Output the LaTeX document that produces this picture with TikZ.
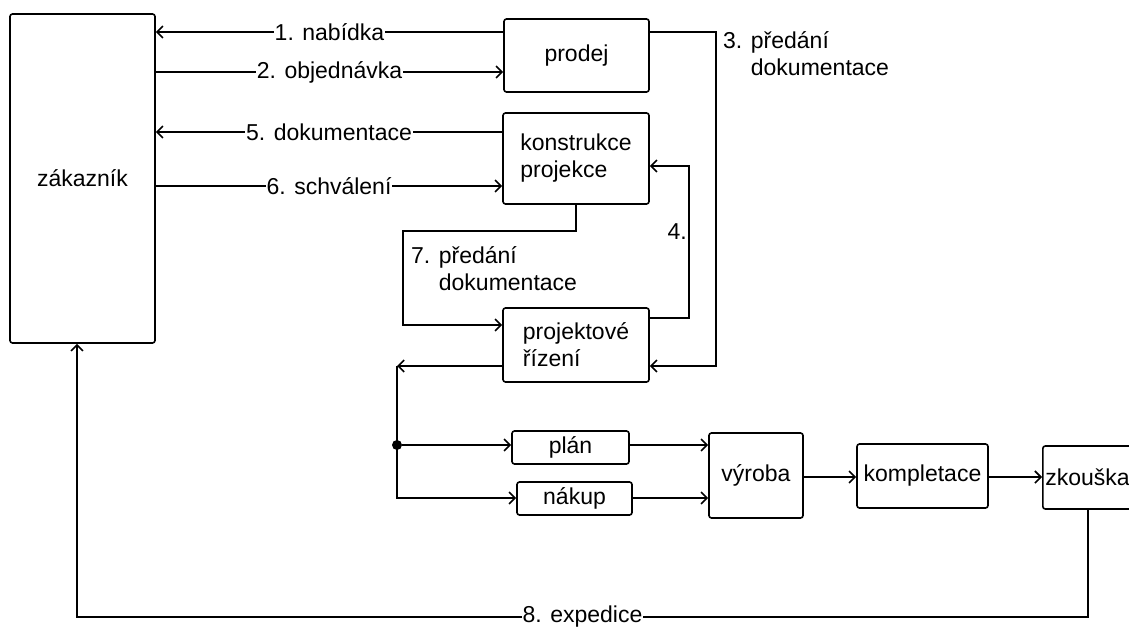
\documentclass[tikz,border=0pt]{standalone}
\usepackage{fontspec}
\setmainfont{Liberation Sans}
\usetikzlibrary{arrows.meta,positioning}

\begin{document}
\begin{tikzpicture}[x=1pt,y=-1pt,
  every node/.style={font=\fontsize{23}{27}\selectfont},
  box/.style={draw,line width=1.6pt,rounded corners=2.5pt,inner sep=0pt},
  arr/.style={line width=1.2pt,-{Straight Barb[length=6pt,width=12pt,line width=1.6pt]}},
  lbl/.style={fill=white,inner sep=1pt},
  txt/.style={anchor=north west,align=left,inner sep=0pt}
  ]
\useasboundingbox (0,0) rectangle (1129,628);
\clip (0,0) rectangle (1129,628);
% boxes
\node[box,minimum width=145,minimum height=329] (zak) at (82.5,178.5) {zákazník};
\node[box,minimum width=145,minimum height=73] (prodej) at (576.5,55.5) {prodej};
\node[box,minimum width=146,minimum height=91,align=left] (konstr) at (576,158.5) {konstrukce\\projekce};
\node[box,minimum width=146,minimum height=74,align=left] (projriz) at (576,345) {projektové\\řízení};
\node[box,minimum width=117,minimum height=33] (plan) at (570.5,447.5) {plán};
\node[box,minimum width=115,minimum height=33] (nakup) at (574.5,498.5) {nákup};
\node[box,minimum width=94,minimum height=85] (vyroba) at (756,475.5) {výroba};
\node[box,minimum width=131,minimum height=64] (kompl) at (922.5,476) {kompletace};
\node[box,text width=90,align=left,inner xsep=2.5pt,minimum height=63,anchor=west] (zkouska) at (1042,477.5) {zkouška};
\node[circle,fill,inner sep=0pt,minimum size=10] (split) at (397,445) {};
% bends
\coordinate (c3) at (716,32);
\coordinate (c4) at (689,318);
\coordinate (c7) at (403,231);
\coordinate (c8) at (397,366);
\coordinate (c9) at (1088,617);
\coordinate (c10) at (77,617);
% customer links
\draw[arr] (prodej.west |- 0,32) -- node[lbl]{1. nabídka} (zak.east |- 0,32);
\draw[arr] (zak.east |- 0,72) -- node[lbl]{2. objednávka} (prodej.west |- 0,72);
\draw[arr] (konstr.west |- 0,132) -- node[lbl]{5. dokumentace} (zak.east |- 0,132);
\draw[arr] (zak.east |- 0,186) -- node[lbl]{6. schválení} (konstr.west |- 0,186);
% internal links
\draw[arr] (prodej.east |- c3) -- (c3) |- (projriz.east |- 0,366);
\node[txt] (lbl3) at (723,31) {3. předání\\\hphantom{3. }dokumentace};
\draw[arr] (projriz.east |- c4) -- (c4) |- (konstr.east |- 0,166);
\node[anchor=east,inner sep=2pt] (lbl4) at (689,232) {4.};
\draw[arr] (konstr.south) |- (c7) |- (projriz.west |- 0,325);
\node[txt] (lbl7) at (411,246) {7. předání\\\hphantom{7. }dokumentace};
\draw[arr] (projriz.west |- c8) -- (c8);
\draw[arr] (c8) |- (nakup.west |- 0,498);
\draw[arr] (split) -- (plan.west |- split);
% production
\draw[arr] (plan.east |- 0,445) -- (vyroba.west |- 0,445);
\draw[arr] (nakup.east |- 0,498) -- (vyroba.west |- 0,498);
\draw[arr] (vyroba.east |- 0,477) -- (kompl.west |- 0,477);
\draw[arr] (kompl.east |- 0,477) -- (zkouska.west |- 0,477);
\draw[arr] (zkouska.south -| c9) -- (c9) -- node[lbl]{8. expedice} (c10) -- (zak.south -| c10);
\end{tikzpicture}
\end{document}
